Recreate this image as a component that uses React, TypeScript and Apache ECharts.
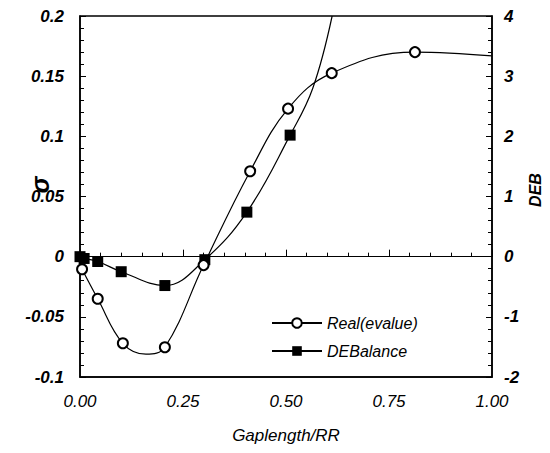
import React, { useEffect, useRef } from "react";
import * as echarts from "echarts";

// Real(evalue) markers (sigma, left axis)
const realX = [0.005, 0.043, 0.104, 0.206, 0.3, 0.413, 0.505, 0.611, 0.813];
const realSigma = [-0.0105, -0.035, -0.072, -0.0753, -0.007, 0.071, 0.123, 0.1525, 0.17];
// extra points (no marker)
const realCurveX = [0.16, 1.0];
const realCurveY = [-0.081, 0.1668];

// DEBalance markers (DEB, right axis)
const debX = [0.0, 0.01, 0.043, 0.1, 0.206, 0.303, 0.405, 0.51];
const debY = [0.0, -0.03, -0.08, -0.25, -0.48, -0.05, 0.74, 2.02];
const debCurveX = [0.565, 0.612];
const debCurveY = [2.8, 4.0];

const xTicks = [0, 1, 0.25];
const sigmaTicks = [-0.1, 0.2, 0.05];
const debTicks = [-2, 4, 1];

function buildData(xs: number[], ys: number[], cx: number[], cy: number[]) {
  const items: any[] = [];
  xs.forEach((x, i) => items.push({ value: [x, ys[i]] }));
  cx.forEach((x, i) => items.push({ value: [x, cy[i]], symbol: "none" }));
  items.sort((a, b) => a.value[0] - b.value[0]);
  return items;
}

const FONT = "'Liberation Sans', Arial, sans-serif";

export default function App() {
  const ref = useRef<HTMLDivElement>(null);
  useEffect(() => {
    if (!ref.current) return;
    const chart = echarts.init(ref.current, null, { renderer: "svg" });
    const tickLabel = { color: "#000", fontFamily: FONT, fontStyle: "italic", fontWeight: "bold", fontSize: 17 } as any;
    chart.setOption({
      animation: false,
      backgroundColor: "#fff",
      grid: {
        left: 80, right: 58, top: 16, bottom: 76,
        containLabel: false, outerBoundsMode: "none",
        show: true, borderColor: "#000", borderWidth: 1.5, backgroundColor: "transparent",
      },
      graphic: [
        {
          type: "text",
          x: 40,
          y: 185,
          rotation: Math.PI / 2,
          style: { text: "σ", fill: "#000", font: `italic bold 25px ${FONT}`, textAlign: "center", textVerticalAlign: "middle" },
        },
        {
          type: "text",
          x: 535,
          y: 190,
          rotation: Math.PI / 2,
          style: { text: "DEB", fill: "#000", font: `italic bold 16px ${FONT}`, textAlign: "center", textVerticalAlign: "middle" },
        },
      ],
      legend: {
        orient: "vertical",
        left: 266,
        top: 310,
        itemWidth: 50,
        itemHeight: 12,
        itemGap: 12,
        textStyle: { color: "#000", fontFamily: FONT, fontStyle: "italic", fontSize: 16 },
        data: ["Real(evalue)", "DEBalance"],
      },
      xAxis: [
        {
          type: "value",
          min: xTicks[0],
          max: xTicks[1],
          interval: xTicks[2],
          position: "bottom",
          name: "Gaplength/RR",
          nameLocation: "middle",
          nameGap: 50,
          nameMoveOverlap: false,
          nameTextStyle: { color: "#000", fontFamily: FONT, fontStyle: "italic", fontSize: 17 },
          axisLine: { show: true, onZero: false, lineStyle: { color: "#000", width: 1.5 } },
          axisTick: { show: false },
          splitLine: { show: false },
          axisLabel: { ...tickLabel, fontWeight: "normal", fontSize: 17, margin: 16, formatter: (v: number) => v.toFixed(2) },
        },
        {
          type: "value",
          min: xTicks[0],
          max: xTicks[1],
          interval: xTicks[2],
          position: "top",
          axisLine: { show: true, onZero: true, onZeroAxisIndex: 0, lineStyle: { color: "#000", width: 1.2 } },
          axisTick: { show: true, inside: false, length: 7, lineStyle: { color: "#000", width: 1 } },
          minorTick: { show: true, splitNumber: 5, length: 4, lineStyle: { color: "#000", width: 1 } },
          axisLabel: { show: false },
          splitLine: { show: false },
        },
      ],
      yAxis: [
        {
          type: "value",
          min: sigmaTicks[0],
          max: sigmaTicks[1],
          interval: sigmaTicks[2],
          position: "left",
          axisLine: { show: true, onZero: false, lineStyle: { color: "#000", width: 1.5 } },
          axisTick: { show: true, inside: true, length: 6, lineStyle: { color: "#000" } },
          minorTick: { show: true, splitNumber: 5, length: 4, lineStyle: { color: "#000" } },
          splitLine: { show: false },
          axisLabel: { ...tickLabel, margin: 16, formatter: (v: number) => String(+v.toFixed(2)) },
        },
        {
          type: "value",
          min: debTicks[0],
          max: debTicks[1],
          interval: debTicks[2],
          position: "right",
          axisLine: { show: true, onZero: false, lineStyle: { color: "#000", width: 1.5 } },
          axisTick: { show: true, inside: true, length: 6, lineStyle: { color: "#000" } },
          minorTick: { show: true, splitNumber: 5, length: 4, lineStyle: { color: "#000" } },
          splitLine: { show: false },
          axisLabel: { ...tickLabel, margin: 12, formatter: (v: number) => String(v) },
        },
      ],
      series: [
        {
          name: "Real(evalue)",
          type: "line",
          xAxisIndex: 0,
          yAxisIndex: 0,
          smooth: 0.4,
          symbol: "circle",
          symbolSize: 10,
          showAllSymbol: true,
          lineStyle: { color: "#000", width: 1.2 },
          itemStyle: { color: "#fff", borderColor: "#000", borderWidth: 2 },
          z: 3,
          data: buildData(realX, realSigma, realCurveX, realCurveY),
        },
        {
          name: "DEBalance",
          type: "line",
          xAxisIndex: 0,
          yAxisIndex: 1,
          smooth: 0.4,
          symbol: "rect",
          symbolSize: 11,
          showAllSymbol: true,
          lineStyle: { color: "#000", width: 1.2 },
          itemStyle: { color: "#000", borderColor: "#000", borderWidth: 0 },
          z: 2,
          data: buildData(debX, debY, debCurveX, debCurveY),
        },
      ],
    });
    return () => chart.dispose();
  }, []);
  return <div ref={ref} style={{ width: 550, height: 453, position: "absolute", left: 0, top: 0 }} />;
}
